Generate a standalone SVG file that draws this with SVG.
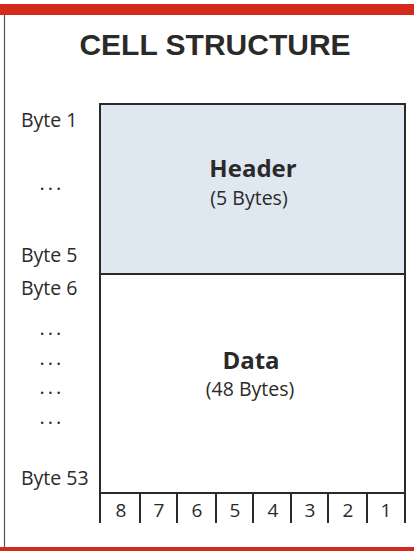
<svg xmlns="http://www.w3.org/2000/svg" width="414" height="551" viewBox="0 0 414 551">
<defs>
<style>
.lbl{font-family:"Open Sans","Noto Sans",sans-serif;font-size:19.5px;fill:#2a2a2a}
.dots{font-family:"Open Sans","Noto Sans",sans-serif;font-size:20px;fill:#2a2a2a;letter-spacing:3px;text-anchor:middle}
.title{font-family:"Liberation Sans",Arial,sans-serif;font-size:30px;font-weight:bold;fill:#2a2a2a;text-anchor:middle}
.big{font-family:"Open Sans","Noto Sans",sans-serif;font-size:24px;font-weight:bold;fill:#2a2a2a;text-anchor:middle}
.sub{font-family:"Open Sans","Noto Sans",sans-serif;font-size:19.5px;fill:#2a2a2a;text-anchor:middle}
.bit{font-family:"Open Sans","Noto Sans",sans-serif;font-size:19px;fill:#2a2a2a;text-anchor:middle}
.box{stroke:#2a2a2a;stroke-width:2}
.tick{stroke:#2a2a2a;stroke-width:2}
</style>
</defs>
<rect x="0" y="0" width="414" height="551" fill="#ffffff"/>
<rect x="0" y="4" width="414" height="11" fill="#d42a1e"/>
<rect x="0" y="547" width="414" height="4" fill="#d42a1e"/>
<line x1="4.5" y1="15" x2="4.5" y2="547" stroke="#555" stroke-width="1.2"/>
<text class="title" x="215" y="55">CELL  STRUCTURE</text>
<g id="header">
<rect class="box" x="100" y="104" width="305" height="170" fill="#dfe8f0"/>
<text class="big" x="253" y="177">Header</text>
<text class="sub" x="249" y="205">(5 Bytes)</text>
</g>
<g id="data">
<rect class="box" x="100" y="274" width="305" height="219" fill="#ffffff"/>
<text class="big" x="251" y="369">Data</text>
<text class="sub" x="250" y="396">(48 Bytes)</text>
</g>
<g id="byte-labels">
<text class="lbl" x="21" y="127">Byte 1</text>
<text class="dots" x="52" y="190">...</text>
<text class="lbl" x="21" y="262">Byte 5</text>
<text class="lbl" x="21" y="295">Byte 6</text>
<text class="dots" x="52" y="335">...</text>
<text class="dots" x="52" y="365">...</text>
<text class="dots" x="52" y="394">...</text>
<text class="dots" x="52" y="424">...</text>
<text class="lbl" x="21" y="485">Byte 53</text>
</g>
<g id="bits">
<line class="tick" x1="100" y1="493" x2="100" y2="523"/>
<line class="tick" x1="140" y1="493" x2="140" y2="523"/>
<line class="tick" x1="177" y1="493" x2="177" y2="523"/>
<line class="tick" x1="216" y1="493" x2="216" y2="523"/>
<line class="tick" x1="253" y1="493" x2="253" y2="523"/>
<line class="tick" x1="291" y1="493" x2="291" y2="523"/>
<line class="tick" x1="328" y1="493" x2="328" y2="523"/>
<line class="tick" x1="367" y1="493" x2="367" y2="523"/>
<line class="tick" x1="405" y1="493" x2="405" y2="523"/>
<text class="bit" x="121" y="517">8</text>
<text class="bit" x="159" y="517">7</text>
<text class="bit" x="197" y="517">6</text>
<text class="bit" x="235" y="517">5</text>
<text class="bit" x="273" y="517">4</text>
<text class="bit" x="310" y="517">3</text>
<text class="bit" x="348" y="517">2</text>
<text class="bit" x="386" y="517">1</text>
</g>
</svg>
